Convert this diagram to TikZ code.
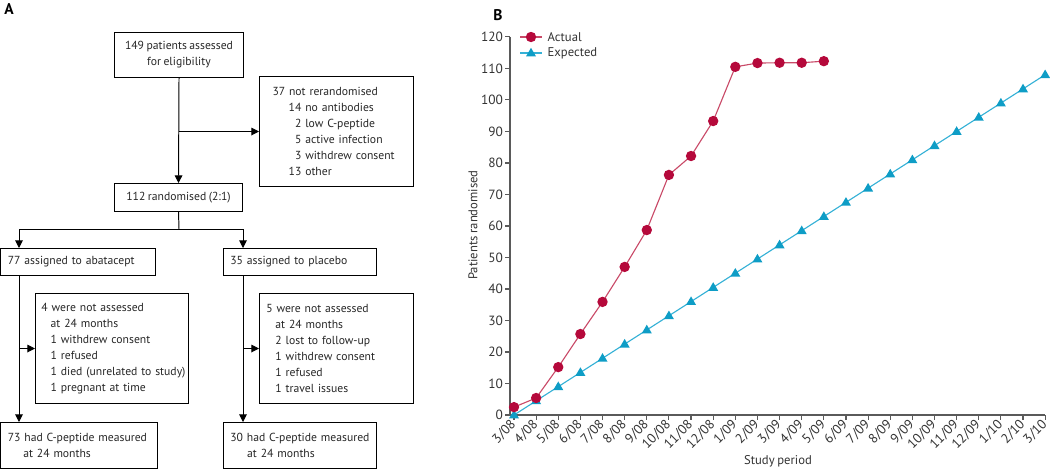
\documentclass[tikz,border=0pt]{standalone}
\usepackage{fontspec}
\setmainfont{PT Sans}[WordSpace=0.8]
\usetikzlibrary{arrows.meta,positioning,calc}

\definecolor{actualred}{HTML}{B5093B}
\definecolor{actualline}{HTML}{C94A68}
\definecolor{expblue}{HTML}{0E9DC6}
\definecolor{expline}{HTML}{35B1D6}
\definecolor{axisgray}{HTML}{5A5A5A}
\definecolor{labelgray}{HTML}{333333}

\begin{document}
\begin{tikzpicture}[
  x=0.025cm, y=-0.025cm,
  every node/.style={font=\fontsize{9}{11.4}\selectfont, text=black!85},
  box/.style={draw, line width=0.7pt, anchor=north west, inner ysep=0pt, inner xsep=0.17cm, align=left, font=\fontsize{8.3}{11.4}\selectfont},
  cbox/.style={box, align=center},
  arrow/.style={-{Triangle[length=5.5pt,width=5.5pt]}, line width=0.7pt},
  axis/.style={axisgray, line width=0.8pt},
  ticklabel/.style={font=\fontsize{9.5}{11}\selectfont, text=labelgray, inner sep=1pt},
  actline/.style={actualline, line width=0.8pt},
  expln/.style={expline, line width=0.8pt},
  panel/.style={font=\fontsize{11}{13}\selectfont\bfseries, text=black}
]
\useasboundingbox (0,0) rectangle (1050,469);

% panel A: flow of participants
\node[panel] (lblA) at (9,9) {A};
\node[cbox, minimum width=3.225cm, minimum height=1.125cm] (elig) at (114,32) {149 patients assessed\\for eligibility};
\node[box, inner xsep=0.325cm, text width=3.2cm, minimum height=2.75cm] (excl) at (259,76)
  {37 not rerandomised\\
   \hspace*{11.5pt}14 no antibodies\\
   \hspace*{11.5pt}\phantom{1}2 low C-peptide\\
   \hspace*{11.5pt}\phantom{1}5 active infection\\
   \hspace*{11.5pt}\phantom{1}3 withdrew consent\\
   \hspace*{11.5pt}13 other};
\node[cbox, minimum width=3.2cm, minimum height=0.7cm] (rand) at (114,183) {112 randomised (2:1)};

\node[box, text width=3.51cm, minimum height=0.675cm] (abat) at (0.5,248) {77 assigned to abatacept};
\node[box, text width=3.485cm, minimum height=0.675cm] (plac) at (223,248) {35 assigned to placebo};

\node[box, inner xsep=0.15cm, text width=3.525cm, minimum height=2.75cm] (lossA) at (35,293)
  {4 were not assessed\\
   \hspace*{6.5pt}at 24 months\\
   \hspace*{6.5pt}1 withdrew consent\\
   \hspace*{6.5pt}1 refused\\
   \hspace*{6.5pt}\mbox{1 died (unrelated to study)}\\
   \hspace*{6.5pt}1 pregnant at time};
\node[box, text width=3.51cm, minimum height=2.75cm] (lossP) at (259,293)
  {5 were not assessed\\
   \hspace*{6.5pt}at 24 months\\
   \hspace*{6.5pt}2 lost to follow-up\\
   \hspace*{6.5pt}1 withdrew consent\\
   \hspace*{6.5pt}1 refused\\
   \hspace*{6.5pt}1 travel issues};

\node[box, text width=3.56cm, minimum height=1.15cm] (measA) at (0.5,422) {73 had C-peptide measured\\\hspace*{11pt}at 24 months};
\node[box, text width=3.485cm, minimum height=1.15cm] (measP) at (223,422) {30 had C-peptide measured\\\hspace*{12pt}at 24 months};

\coordinate (split) at (179,229);
\coordinate (armA) at (19,229);
\coordinate (armP) at (243,229);

\draw[arrow] (elig.south) -- (rand.north);
\draw[arrow] (elig.south |- excl.west) -- (excl.west);
\draw[line width=0.7pt] (rand.south) -- (split);
\draw[arrow] (split) -- (armA) -- (armA |- abat.north);
\draw[arrow] (split) -- (armP) -- (armP |- plac.north);
\draw[arrow] (armA |- abat.south) -- (armA |- measA.north);
\draw[arrow] (armA |- lossA.west) -- (lossA.west);
\draw[arrow] (armP |- plac.south) -- (armP |- measP.north);
\draw[arrow] (armP |- lossP.west) -- (lossP.west);

% panel B: recruitment over time
\node[panel] (lblB) at (498,15) {B};
\begin{scope}[shift={(514,415)}, x=0.553125cm, y=0.07875cm]
  \draw[axis] (-0.18,0) -- (24,0);
  \draw[axis] (-0.18,0) -- (-0.18,120);
  \foreach \v in {0,10,...,120}
    \draw[axis] (-0.18,\v) -- ++(-0.13cm,0) node[left, ticklabel] {\v};
  \foreach \mo/\yr [count=\i from 0] in {3/08,4/08,5/08,6/08,7/08,8/08,9/08,10/08,11/08,12/08,1/09,2/09,3/09,4/09,5/09,6/09,7/09,8/09,9/09,10/09,11/09,12/09,1/10,2/10,3/10}
    \draw[axis] (\i,0) -- ++(0,-0.13cm) node[ticklabel, anchor=east, rotate=45, yshift=-1pt] {\mo/\yr};

  % expected
  \draw[expln] (0,0) -- (24,108);
  \foreach \i in {0,...,24}
    \fill[expblue] (\i,{4.5*\i}) ++(0,0.13cm) -- ++(-0.125cm,-0.215cm) -- ++(0.25cm,0) -- cycle;

  % actual
  \draw[actline] plot coordinates {(0,2.5) (1,5.4) (2,15.2) (3,25.7) (4,35.9) (5,47) (6,58.7) (7,76.2) (8,82.2) (9,93.3) (10,110.5) (11,111.7) (12,111.8) (13,111.8) (14,112.3)};
  \foreach \v [count=\i from 0] in {2.5,5.4,15.2,25.7,35.9,47,58.7,76.2,82.2,93.3,110.5,111.7,111.8,111.8,112.3}
    \fill[actualred] (\i,\v) circle (0.13cm);
\end{scope}

\node[rotate=90, text=labelgray] (ylab) at (473,225) {Patients randomised};
\node[text=labelgray] (xlab) at (778,461) {Study period};

% legend
\draw[actline] (520,37) -- (542,37);
\fill[actualred] (531,37) circle (0.13cm);
\node[anchor=west, text=labelgray, inner sep=1pt] (legact) at (546,37) {Actual};
\draw[expln] (520,53) -- (542,53);
\fill[expblue] (531,53) ++(0,0.13cm) -- ++(-0.125cm,-0.215cm) -- ++(0.25cm,0) -- cycle;
\node[anchor=west, text=labelgray, inner sep=1pt] (legexp) at (546,53) {Expected};
\end{tikzpicture}
\end{document}
